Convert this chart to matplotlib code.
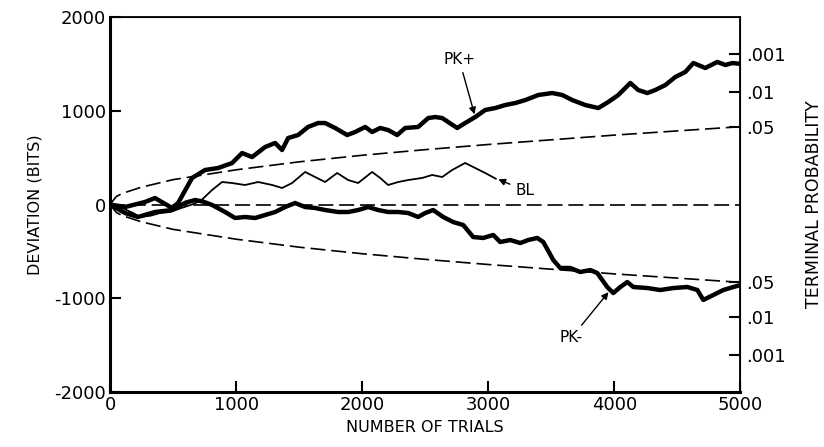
import matplotlib.pyplot as plt

plt.rcParams['axes.unicode_minus'] = False

# cumulative deviation traces
pk_plus_x = [0, 119, 278, 357, 492, 540, 651, 754, 857, 968, 1048, 1127, 1230, 1310, 1365, 1413,
             1492, 1571, 1651, 1706, 1786, 1881, 1944, 2024, 2079, 2143, 2206, 2278, 2341, 2444,
             2524, 2579, 2635, 2754, 2817, 2897, 2976, 3056, 3135, 3214, 3294, 3397, 3508, 3587,
             3667, 3770, 3873, 3952, 4032, 4127, 4190, 4262, 4325, 4405, 4484, 4563, 4627, 4722,
             4817, 4881, 4937, 5000]
pk_plus_y = [0, -27, 27, 69, -37, 16, 283, 368, 389, 442, 549, 506, 613, 656, 581, 709,
             741, 827, 869, 869, 816, 741, 773, 827, 773, 816, 794, 741, 816, 827,
             922, 933, 922, 816, 869, 933, 1008, 1029, 1061, 1082, 1114, 1168, 1189, 1168,
             1114, 1061, 1029, 1093, 1168, 1296, 1221, 1189, 1221, 1274, 1360, 1413, 1509, 1456,
             1520, 1488, 1509, 1500]

pk_minus_x = [0, 119, 222, 357, 492, 600, 675, 740, 810, 913, 992, 1071, 1151, 1230, 1310, 1389,
              1468, 1548, 1627, 1706, 1810, 1889, 1968, 2048, 2127, 2206, 2286, 2365, 2444, 2500,
              2563, 2643, 2722, 2802, 2881, 2960, 3040, 3095, 3175, 3254, 3317, 3389, 3437, 3516,
              3571, 3651, 3730, 3810, 3865, 3944, 3992, 4048, 4103, 4151, 4262, 4365, 4468, 4579,
              4659, 4706, 4786, 4865, 4944, 5000]
pk_minus_y = [0, -91, -133, -80, -59, 20, 48, 30, -5, -80, -144, -133, -144, -112, -80, -27,
              16, -27, -37, -59, -80, -80, -59, -27, -59, -80, -80, -91, -133, -91,
              -59, -133, -187, -219, -347, -357, -325, -400, -379, -411, -379, -357, -400, -592,
              -677, -677, -720, -699, -731, -880, -944, -880, -827, -880, -891, -912, -891, -880,
              -912, -1018, -965, -912, -880, -859]

bl_x = [0, 100, 183, 238, 320, 397, 476, 560, 650, 720, 810, 889, 968, 1071, 1175, 1286, 1365,
        1444, 1548, 1627, 1706, 1802, 1889, 1968, 2079, 2143, 2206, 2286, 2365, 2476, 2556,
        2635, 2714, 2817, 2881, 2976, 3060]
bl_y = [0, -40, -91, -133, -120, -91, -80, -40, 0, 40, 155, 240, 229, 208, 240, 208, 176,
        229, 347, 293, 240, 336, 261, 229, 347, 283, 208, 240, 261, 283, 315,
        293, 368, 443, 400, 336, 275]

# 0.05 envelope, read at a few trial counts
env_x = [0, 50, 100, 250, 500, 1000, 1500, 2000, 2500, 3000, 3500, 4000, 4500, 5000]
env_y = [0, 85, 120, 185, 265, 370, 455, 525, 585, 640, 690, 740, 785, 830]

prob_labels = ['.001', '.01', '.05']
prob_levels = [1600, 1200, 830]

fig = plt.figure(figsize=(8.24, 4.47), dpi=100)
ax = fig.add_axes([0.1335, 0.123, 0.765, 0.839])

dash = (0, (9, 3.5))
ax.plot([0, 5000], [0, 0], color='black', lw=1.2, linestyle=dash)
ax.plot(env_x, env_y, color='black', lw=1.2, linestyle=dash)
ax.plot(env_x, [-v for v in env_y], color='black', lw=1.2, linestyle=dash)

ax.plot(bl_x, bl_y, color='black', lw=1.3, solid_joinstyle='round')
ax.plot(pk_plus_x, pk_plus_y, color='black', lw=3.2, solid_joinstyle='round', solid_capstyle='round')
ax.plot(pk_minus_x, pk_minus_y, color='black', lw=3.2, solid_joinstyle='round', solid_capstyle='round')

ax.set_xlim(0, 5000)
ax.set_ylim(-2000, 2000)
ax.set_xticks([0, 1000, 2000, 3000, 4000, 5000])
ax.set_yticks([-2000, -1000, 0, 1000, 2000])
ax.tick_params(direction='in', length=8, width=1.5, labelsize=13, pad=3)
for lab in ax.get_xticklabels() + ax.get_yticklabels():
    lab.set_fontweight('medium')
ax.set_xlabel('NUMBER OF TRIALS', fontsize=11.5, labelpad=4)
ax.set_ylabel('DEVIATION (BITS)', fontsize=11.5, labelpad=8)

for side in ['left', 'bottom']:
    ax.spines[side].set_linewidth(2.2)
for side in ['top', 'right']:
    ax.spines[side].set_linewidth(1.3)

ax2 = ax.twinx()
ax2.set_ylim(-2000, 2000)
ticks = prob_levels + [-v for v in prob_levels]
ax2.set_yticks(ticks)
ax2.set_yticklabels(prob_labels + prob_labels)
ax2.tick_params(direction='in', length=8, width=1.5, labelsize=13, pad=4)
ax2.set_ylabel('TERMINAL PROBABILITY', fontsize=12.5, labelpad=14)

arrow = dict(arrowstyle='-|>', color='black', lw=1.0, mutation_scale=10)
ax.annotate('PK+', xy=(2897, 933), xytext=(2770, 1545), fontsize=11, ha='center', va='center',
            arrowprops=arrow)
ax.annotate('BL', xy=(3060, 280), xytext=(3290, 150), fontsize=11, ha='center', va='center',
            arrowprops=arrow)
ax.annotate('PK-', xy=(3968, -912), xytext=(3660, -1420), fontsize=11, ha='center', va='center',
            arrowprops=arrow)

plt.savefig('out.png', dpi=100)
